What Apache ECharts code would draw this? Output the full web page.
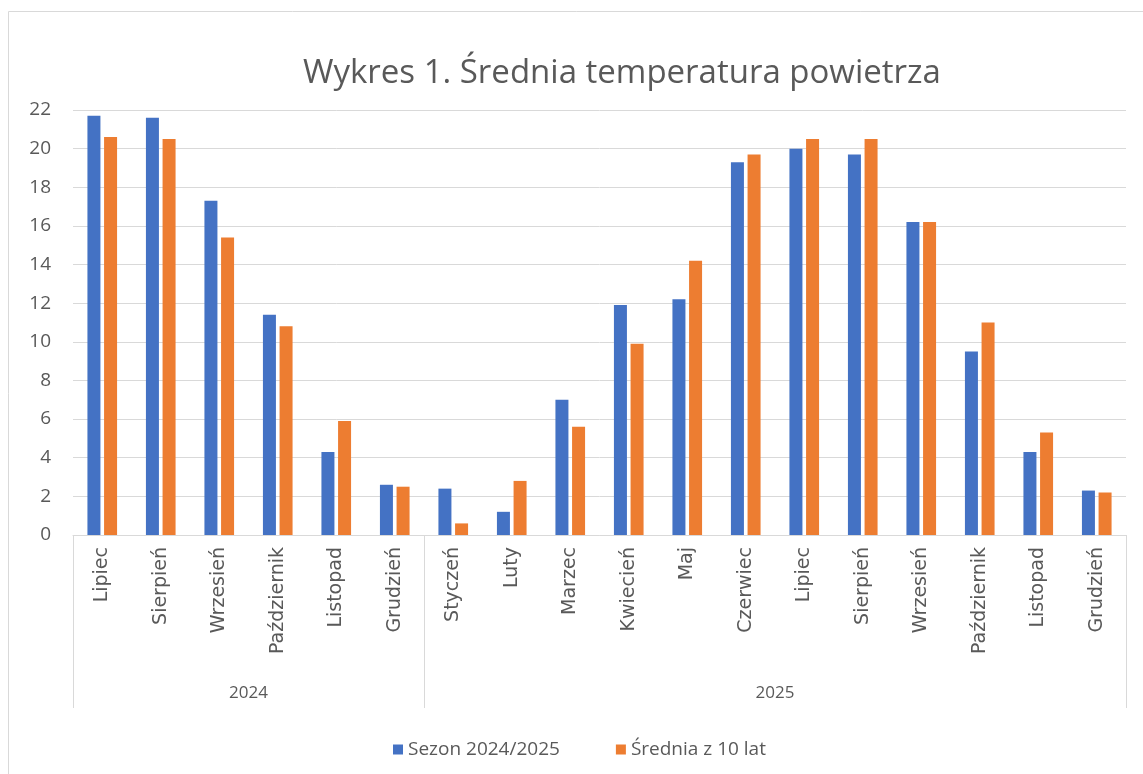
<!DOCTYPE html>
<html><head><meta charset="utf-8">
<script src="https://cdn.jsdelivr.net/npm/echarts@6/dist/echarts.min.js"></script>
<style>html,body{margin:0;padding:0;background:#fff}#c{width:1143px;height:774px}</style>
</head><body><div id="c"></div>
<script>
const months = ['Lipiec','Sierpień','Wrzesień','Październik','Listopad','Grudzień','Styczeń','Luty','Marzec','Kwiecień','Maj','Czerwiec','Lipiec','Sierpień','Wrzesień','Październik','Listopad','Grudzień'];
const years = ['2024','2025'];
const yearSpans = [6, 12];
const sezon = [21.7,21.6,17.3,11.4,4.3,2.6,2.4,1.2,7.0,11.9,12.2,19.3,20.0,19.7,16.2,9.5,4.3,2.3];
const srednia = [20.6,20.5,15.4,10.8,5.9,2.5,0.6,2.8,5.6,9.9,14.2,19.7,20.5,20.5,16.2,11.0,5.3,2.2];
const yTicks = {min:0, max:22, interval:2};

const bounds = [0]; yearSpans.forEach(s => bounds.push(bounds[bounds.length-1]+s));
const mids = yearSpans.map((s,i)=>bounds[i]+s/2);
const FONT = 'Open Sans';
const chart = echarts.init(document.getElementById('c'));
chart.setOption({
  animation:false,
  textStyle:{fontFamily:FONT,color:'#595959'},
  title:{text:'Wykres 1. Średnia temperatura powietrza',left:298,top:52,
    textStyle:{fontFamily:FONT,fontSize:33,fontWeight:'normal',color:'#595959'}},
  graphic:[{type:'rect',shape:{x:8.5,y:11.5,width:1300,height:900},style:{fill:'none',stroke:'#d9d9d9',lineWidth:1},silent:true}],
  legend:{bottom:15,left:393,padding:0,itemWidth:10,itemHeight:10,itemGap:56,icon:'rect',
    textStyle:{fontFamily:FONT,fontSize:19,color:'#595959'}},
  grid:{left:73,right:17,top:110,bottom:239,containLabel:false},
  xAxis:[{type:'category',data:months,axisLine:{lineStyle:{color:'#d9d9d9'}},axisTick:{show:false},
    axisLabel:{rotate:90,fontSize:19,color:'#595959',margin:12,interval:0,fontFamily:'DejaVu Sans'}},
   {type:'value',min:0,max:18,position:'bottom',axisLine:{show:false},splitLine:{show:false},
    axisTick:{show:true,customValues:bounds,length:173,lineStyle:{color:'#d9d9d9'}},
    axisLabel:{customValues:mids,margin:150,fontSize:17,color:'#595959',fontFamily:FONT,
      formatter:v=>{const i=mids.indexOf(v);return i>=0?years[i]:'';}}}],
  yAxis:{type:'value',min:yTicks.min,max:yTicks.max,interval:yTicks.interval,
    axisLine:{show:false},axisTick:{show:false},
    splitLine:{lineStyle:{color:'#d9d9d9'}},
    axisLabel:{fontSize:19,color:'#595959',margin:22,fontFamily:FONT}},
  series:[
    {name:'Sezon 2024/2025',type:'bar',data:sezon,barWidth:13,barGap:'28%',itemStyle:{color:'#4472C4'}},
    {name:'Średnia z 10 lat',type:'bar',data:srednia,barWidth:13,barGap:'28%',itemStyle:{color:'#ED7D31'}}
  ]
});
</script></body></html>
